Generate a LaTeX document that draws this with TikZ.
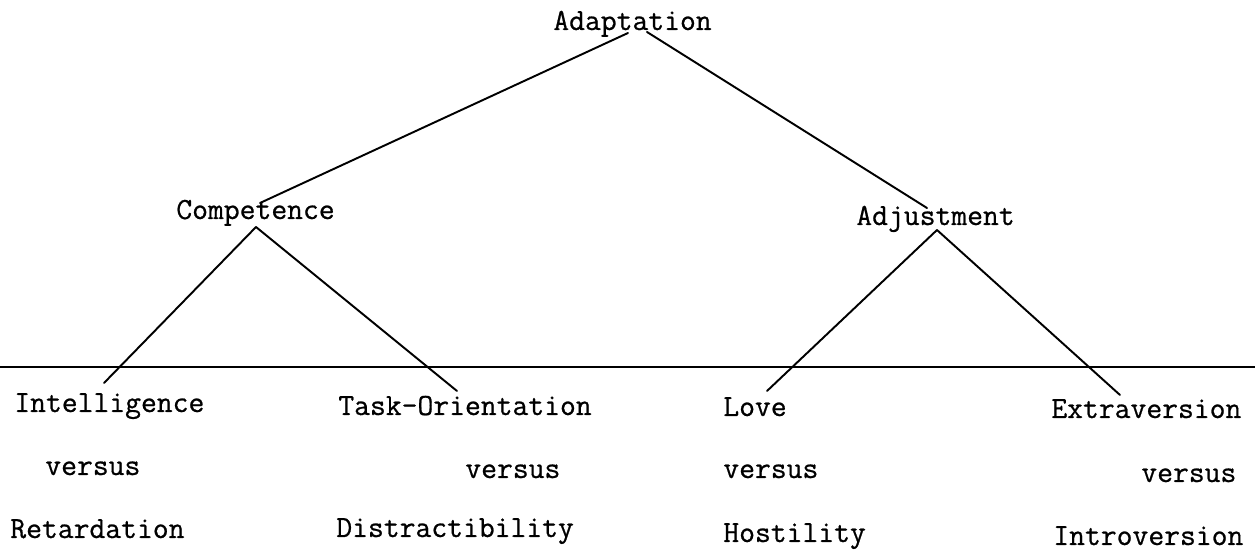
\documentclass[tikz,border=0pt]{standalone}
\usepackage{fontspec}
\newfontfamily\typew{Latin Modern Mono}[FakeBold=0.7]
\begin{document}
\begin{tikzpicture}[x=0.02cm,y=-0.02cm,
  lbl/.style={anchor=base west,inner sep=0pt,font=\typew\fontsize{17.5}{20}\selectfont},
  conn/.style={line width=1.1pt,line cap=round},
  rulel/.style={line width=0.9pt}]
\useasboundingbox (0,0) rectangle (1255,553);
% labels
\node[lbl] (adapt)  at (553,30)   {Adaptation};
\node[lbl] (comp)   at (176,219)  {Competence};
\node[lbl] (adj)    at (856,225)  {Adjustment};
\node[lbl] (intel)  at (14,412)   {Intelligence};
\node[lbl] (vsA)    at (45,475)   {versus};
\node[lbl] (retard) at (10,538)   {Retardation};
\node[lbl] (task)   at (338,415)  {Task-Orientation};
\node[lbl] (vsB)    at (465,478)  {versus};
\node[lbl] (distr)  at (336,537)  {Distractibility};
\node[lbl] (love)   at (723,416)  {Love};
\node[lbl] (vsC)    at (723,478)  {versus};
\node[lbl] (host)   at (723,542)  {Hostility};
\node[lbl] (extra)  at (1051,418) {Extraversion};
\node[lbl] (vsD)    at (1141,482) {versus};
\node[lbl] (intro)  at (1053,545) {Introversion};
% connector ends
\coordinate (aL) at (628,33);
\coordinate (aR) at (647,32);
\coordinate (cT) at (260,203);
\coordinate (cB) at (256,227);
\coordinate (jT) at (927,208);
\coordinate (jB) at (937,230);
\coordinate (iT) at (104,383);
\coordinate (tT) at (457,391);
\coordinate (lT) at (767,391);
\coordinate (eT) at (1120,395);
\coordinate (ruleL) at (0,367);
\coordinate (ruleR) at (1255,367);
% connectors
\draw[conn] (aL) -- (cT);
\draw[conn] (aR) -- (jT);
\draw[conn] (cB) -- (iT);
\draw[conn] (cB) -- (tT);
\draw[conn] (jB) -- (lT);
\draw[conn] (jB) -- (eT);
\draw[rulel] (ruleL) -- (ruleR);
\end{tikzpicture}
\end{document}
